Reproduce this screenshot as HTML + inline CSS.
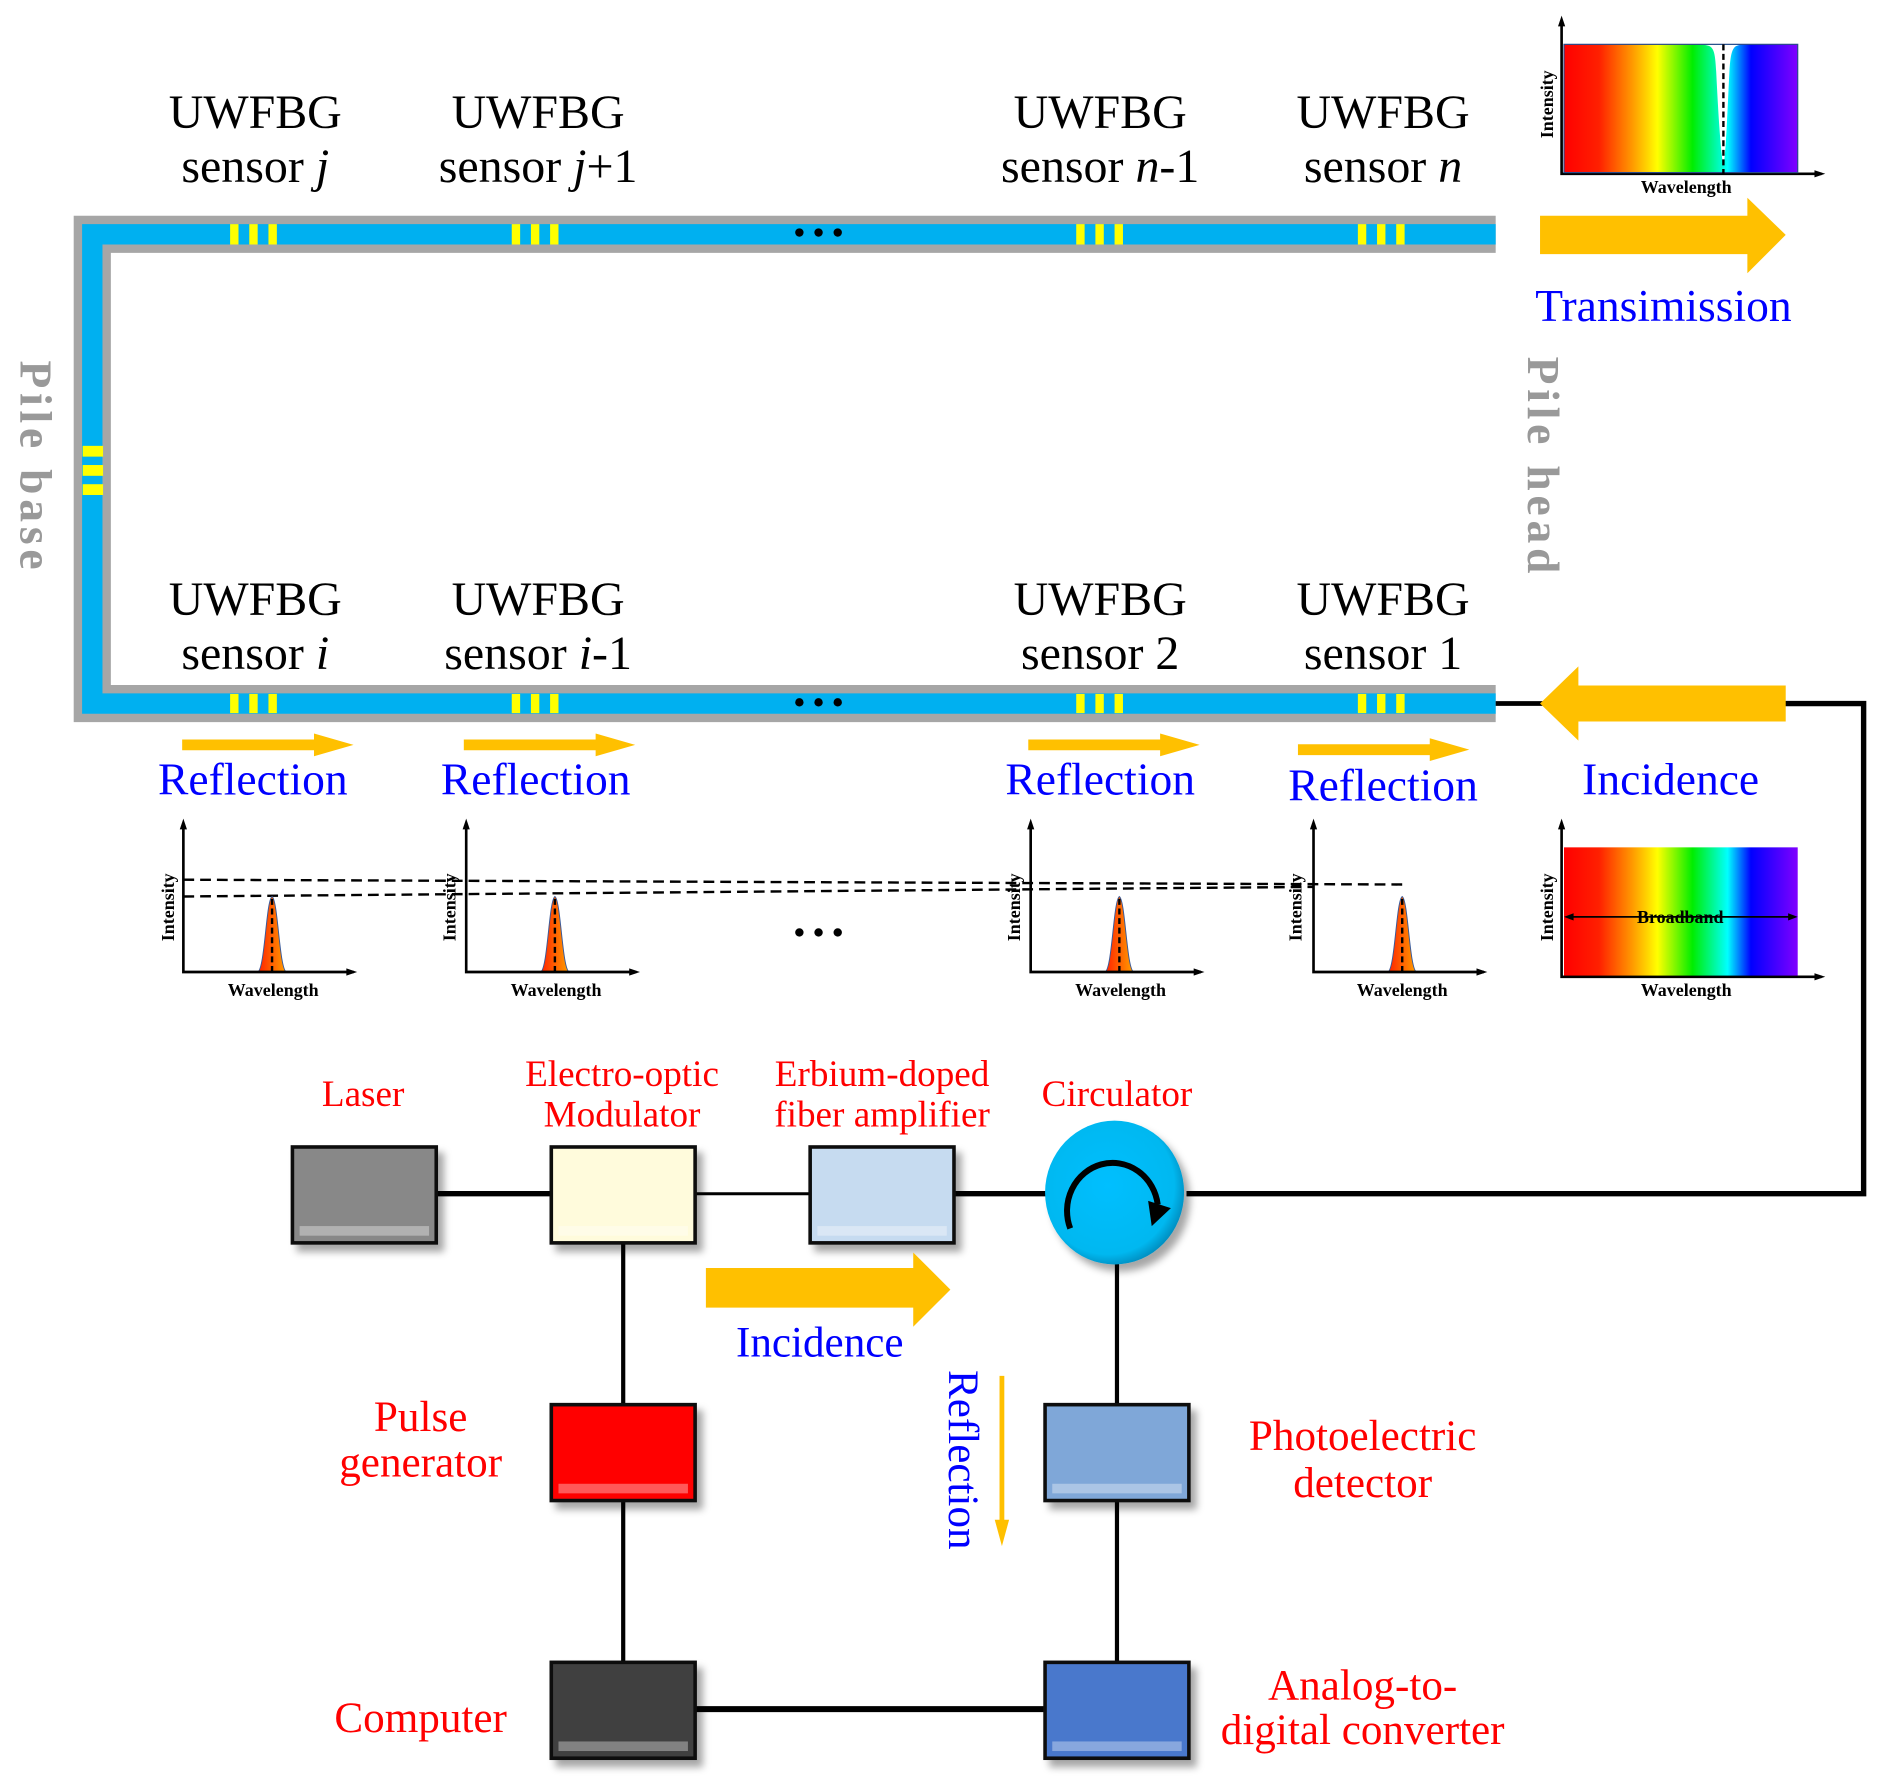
<!DOCTYPE html>
<html><head><meta charset="utf-8"><style>
html,body{margin:0;padding:0;background:#fff}
svg{display:block}
text{font-family:"Liberation Serif",serif}
</style></head><body>
<svg width="1878" height="1781" viewBox="0 0 1567 1486" preserveAspectRatio="none" xmlns="http://www.w3.org/2000/svg">
<defs>
<linearGradient id="rb" x1="0" x2="1" y1="0" y2="0">
<stop offset="0" stop-color="#ff0000"/><stop offset="0.15" stop-color="#ff2000"/><stop offset="0.3" stop-color="#ffa000"/><stop offset="0.4" stop-color="#ffff00"/><stop offset="0.55" stop-color="#00ee00"/><stop offset="0.7" stop-color="#00ffff"/><stop offset="0.8" stop-color="#0000ff"/><stop offset="1" stop-color="#8000ff"/>
</linearGradient>
<linearGradient id="pk" x1="0" x2="1"><stop offset="0" stop-color="#ff2000"/><stop offset="1" stop-color="#ffa000"/></linearGradient>
<radialGradient id="cg" cx="0.45" cy="0.45" r="0.6"><stop offset="0" stop-color="#00bfff"/><stop offset="0.8" stop-color="#00b8f0"/><stop offset="1" stop-color="#0080b0"/></radialGradient>
<filter id="sh" x="-20%" y="-20%" width="150%" height="150%"><feDropShadow dx="5" dy="6" stdDeviation="3" flood-color="#000" flood-opacity="0.35"/></filter>
<g id="peak"><path d="M-12,0 C-6,-2 -5,-60 0,-63 C5,-60 6,-2 12,0 Z" fill="url(#pk)" stroke="#3a5a9a" stroke-width="0.8"/><line x1="0" y1="0" x2="0" y2="-63" stroke="#000" stroke-width="2" stroke-dasharray="5,3"/></g>
</defs>

<path d="M1248,195.5 H77 V587 H1248" fill="none" stroke="#a6a6a6" stroke-width="31"/>
<path d="M1248,195.5 H77 V587 H1248" fill="none" stroke="#00b0f0" stroke-width="17"/>
<g fill="#ffff00">
<rect x="192" y="187" width="7" height="17"/><rect x="208" y="187" width="7" height="17"/><rect x="224" y="187" width="7" height="17"/>
<rect x="427" y="187" width="7" height="17"/><rect x="443" y="187" width="7" height="17"/><rect x="459" y="187" width="7" height="17"/>
<rect x="898" y="187" width="7" height="17"/><rect x="914" y="187" width="7" height="17"/><rect x="930" y="187" width="7" height="17"/>
<rect x="1133" y="187" width="7" height="17"/><rect x="1149" y="187" width="7" height="17"/><rect x="1165" y="187" width="7" height="17"/>
<rect x="192" y="579" width="7" height="16"/><rect x="208" y="579" width="7" height="16"/><rect x="224" y="579" width="7" height="16"/>
<rect x="427" y="579" width="7" height="16"/><rect x="443" y="579" width="7" height="16"/><rect x="459" y="579" width="7" height="16"/>
<rect x="898" y="579" width="7" height="16"/><rect x="914" y="579" width="7" height="16"/><rect x="930" y="579" width="7" height="16"/>
<rect x="1133" y="579" width="7" height="16"/><rect x="1149" y="579" width="7" height="16"/><rect x="1165" y="579" width="7" height="16"/>
<rect x="69" y="372" width="17" height="9"/><rect x="69" y="388" width="17" height="9"/><rect x="69" y="404" width="17" height="9"/>
</g>
<g fill="#000"><circle cx="667" cy="194" r="3.5"/><circle cx="683" cy="194" r="3.5"/><circle cx="699" cy="194" r="3.5"/>
<circle cx="667" cy="586" r="3.5"/><circle cx="683" cy="586" r="3.5"/><circle cx="699" cy="586" r="3.5"/>
<circle cx="667" cy="778" r="3.5"/><circle cx="683" cy="778" r="3.5"/><circle cx="699" cy="778" r="3.5"/></g>

<g font-size="40" text-anchor="middle" fill="#000">
<text x="213" y="107">UWFBG</text><text x="213" y="152">sensor <tspan font-style="italic">j</tspan></text>
<text x="449" y="107">UWFBG</text><text x="449" y="152">sensor <tspan font-style="italic">j</tspan>+1</text>
<text x="918" y="107">UWFBG</text><text x="918" y="152">sensor <tspan font-style="italic">n</tspan>-1</text>
<text x="1154" y="107">UWFBG</text><text x="1154" y="152">sensor <tspan font-style="italic">n</tspan></text>
<text x="213" y="513">UWFBG</text><text x="213" y="558">sensor <tspan font-style="italic">i</tspan></text>
<text x="449" y="513">UWFBG</text><text x="449" y="558">sensor <tspan font-style="italic">i</tspan>-1</text>
<text x="918" y="513">UWFBG</text><text x="918" y="558">sensor 2</text>
<text x="1154" y="513">UWFBG</text><text x="1154" y="558">sensor 1</text>
</g>
<text transform="translate(17,390) rotate(90)" font-size="38" font-weight="bold" fill="#999" text-anchor="middle" letter-spacing="4">Pile base</text>
<text transform="translate(1275,390) rotate(90)" font-size="38" font-weight="bold" fill="#999" text-anchor="middle" letter-spacing="4">Pile head</text>

<polygon points="1285,180 1458,180 1458,165 1490,196 1458,228 1458,212 1285,212" fill="#ffc000"/>
<text x="1388" y="268" font-size="38" fill="#0000ff" text-anchor="middle">Transimission</text>
<polyline points="1248,587 1290,587" stroke="#000" stroke-width="4" fill="none"/>
<polyline points="1488,587 1555,587 1555,996 990,996" stroke="#000" stroke-width="4.5" fill="none"/>
<polygon points="1490,572 1317,572 1317,556 1285,587 1317,618 1317,602 1490,602" fill="#ffc000"/>
<text x="1394" y="663" font-size="38" fill="#0000ff" text-anchor="middle">Incidence</text>

<g fill="#ffc000">
<polygon points="152,617 262,617 262,612 295,621.5 262,631 262,626 152,626"/>
<polygon points="387,617 497,617 497,612 530,621.5 497,631 497,626 387,626"/>
<polygon points="858,617 968,617 968,612 1001,621.5 968,631 968,626 858,626"/>
<polygon points="1083,621 1193,621 1193,616 1226,625.5 1193,635 1193,630 1083,630"/>
</g>
<g font-size="38" fill="#0000ff" text-anchor="middle">
<text x="211" y="663">Reflection</text><text x="447" y="663">Reflection</text><text x="918" y="663">Reflection</text><text x="1154" y="668">Reflection</text>
</g>

<g stroke="#000" stroke-width="2" fill="none" stroke-dasharray="9,5">
<line x1="153" y1="734" x2="1170" y2="738"/>
<line x1="153" y1="748" x2="1096" y2="740"/>
</g>
<g>
<use href="#peak" x="227" y="811"/><use href="#peak" x="463" y="811"/>
<use href="#peak" x="934" y="811"/><use href="#peak" x="1170" y="811"/>
</g>
<g stroke="#000" stroke-width="2.2" fill="none">
<polyline points="153,687 153,811 295,811"/><polyline points="389,687 389,811 531,811"/>
<polyline points="860,687 860,811 1002,811"/><polyline points="1096,687 1096,811 1238,811"/>
<polyline points="1303,687 1303,815 1520,815"/><polyline points="1303,17 1303,145 1520,145"/>
</g>
<g fill="#000">
<polygon points="153,683 150,692 156,692"/><polygon points="298,811 289,808 289,814"/>
<polygon points="389,683 386,692 392,692"/><polygon points="534,811 525,808 525,814"/>
<polygon points="860,683 857,692 863,692"/><polygon points="1005,811 996,808 996,814"/>
<polygon points="1096,683 1093,692 1099,692"/><polygon points="1241,811 1232,808 1232,814"/>
<polygon points="1303,683 1300,692 1306,692"/><polygon points="1523,815 1514,812 1514,818"/>
<polygon points="1303,13 1300,22 1306,22"/><polygon points="1523,145 1514,142 1514,148"/>
</g>
<g font-size="15" font-weight="bold" text-anchor="middle" fill="#000">
<text x="228" y="831">Wavelength</text><text x="464" y="831">Wavelength</text><text x="935" y="831">Wavelength</text><text x="1170" y="831">Wavelength</text><text x="1407" y="831">Wavelength</text><text x="1407" y="161">Wavelength</text>
<text transform="translate(145,757) rotate(-90)">Intensity</text>
<text transform="translate(380,757) rotate(-90)">Intensity</text>
<text transform="translate(851,757) rotate(-90)">Intensity</text>
<text transform="translate(1086,757) rotate(-90)">Intensity</text>
<text transform="translate(1296,757) rotate(-90)">Intensity</text>
<text transform="translate(1296,87) rotate(-90)">Intensity</text>
</g>
<rect x="1305" y="37" width="195" height="107" fill="url(#rb)" stroke="#2a4a8a" stroke-width="1"/>
<path d="M1422,37.5 C1430,38 1431,42 1432,60 C1434,100 1436,130 1438,138 C1440,130 1441,100 1443,60 C1444,42 1446,38 1452,37.5 Z" fill="#fff"/>
<line x1="1438" y1="37" x2="1438" y2="145" stroke="#000" stroke-width="2" stroke-dasharray="5,3"/>
<rect x="1305" y="707" width="195" height="107" fill="url(#rb)"/>
<line x1="1308" y1="765" x2="1497" y2="765" stroke="#000" stroke-width="1.5"/>
<polygon points="1305,765 1313,762 1313,768" fill="#000"/><polygon points="1500,765 1492,762 1492,768" fill="#000"/>
<text x="1402" y="770" font-size="15" font-weight="bold" text-anchor="middle" fill="#000">Broadband</text>

<g stroke="#000" fill="none">
<line x1="364" y1="996" x2="460" y2="996" stroke-width="4.5"/>
<line x1="580" y1="996" x2="676" y2="996" stroke-width="2.5"/>
<line x1="796" y1="996" x2="876" y2="996" stroke-width="4.5"/>
<line x1="520" y1="1037" x2="520" y2="1387" stroke-width="3.5"/>
<line x1="932" y1="1054" x2="932" y2="1387" stroke-width="3.5"/>
<line x1="580" y1="1426" x2="872" y2="1426" stroke-width="5"/>
</g>
<g stroke="#111" stroke-width="3" filter="url(#sh)">
<rect x="244" y="957" width="120" height="80" fill="#888"/>
<rect x="460" y="957" width="120" height="80" fill="#fffbdc"/>
<rect x="676" y="957" width="120" height="80" fill="#c6dbf0"/>
<rect x="460" y="1172" width="120" height="80" fill="#ff0000"/>
<rect x="460" y="1387" width="120" height="80" fill="#404040"/>
<rect x="872" y="1172" width="120" height="80" fill="#7fa7d8"/>
<rect x="872" y="1387" width="120" height="80" fill="#4a78cc"/>
</g>
<g fill="#fff" opacity="0.35">
<rect x="250" y="1023" width="108" height="8"/><rect x="466" y="1023" width="108" height="8"/><rect x="682" y="1023" width="108" height="8"/>
<rect x="466" y="1238" width="108" height="8"/><rect x="466" y="1453" width="108" height="8"/><rect x="878" y="1238" width="108" height="8"/><rect x="878" y="1453" width="108" height="8"/>
</g>
<ellipse cx="930" cy="995" rx="58" ry="60" fill="url(#cg)" filter="url(#sh)"/>
<path d="M893,1025 A38,40 0 1 1 966,1005" fill="none" stroke="#000" stroke-width="5"/>
<polygon points="958,1002 977,1008 961,1023" fill="#000"/>

<polygon points="589,1058 762,1058 762,1045 793,1076 762,1107 762,1091 589,1091" fill="#ffc000"/>
<text x="684" y="1132" font-size="36" fill="#0000ff" text-anchor="middle">Incidence</text>
<text transform="translate(792,1218) rotate(90)" font-size="36" fill="#0000ff" text-anchor="middle">Reflection</text>
<line x1="836" y1="1148" x2="836" y2="1272" stroke="#ffc000" stroke-width="4"/>
<polygon points="830,1268 842,1268 836,1290" fill="#ffc000"/>

<g fill="#ff0000" text-anchor="middle">
<text x="303" y="923" font-size="31">Laser</text>
<text x="519" y="906" font-size="31">Electro-optic</text><text x="519" y="940" font-size="31">Modulator</text>
<text x="736" y="906" font-size="31">Erbium-doped</text><text x="736" y="940" font-size="31">fiber amplifier</text>
<text x="932" y="923" font-size="31">Circulator</text>
<text x="351" y="1194" font-size="36">Pulse</text><text x="351" y="1232" font-size="36">generator</text>
<text x="1137" y="1210" font-size="36">Photoelectric</text><text x="1137" y="1249" font-size="36">detector</text>
<text x="351" y="1445" font-size="36">Computer</text>
<text x="1137" y="1418" font-size="36">Analog-to-</text><text x="1137" y="1455" font-size="36">digital converter</text>
</g>
</svg>
</body></html>
